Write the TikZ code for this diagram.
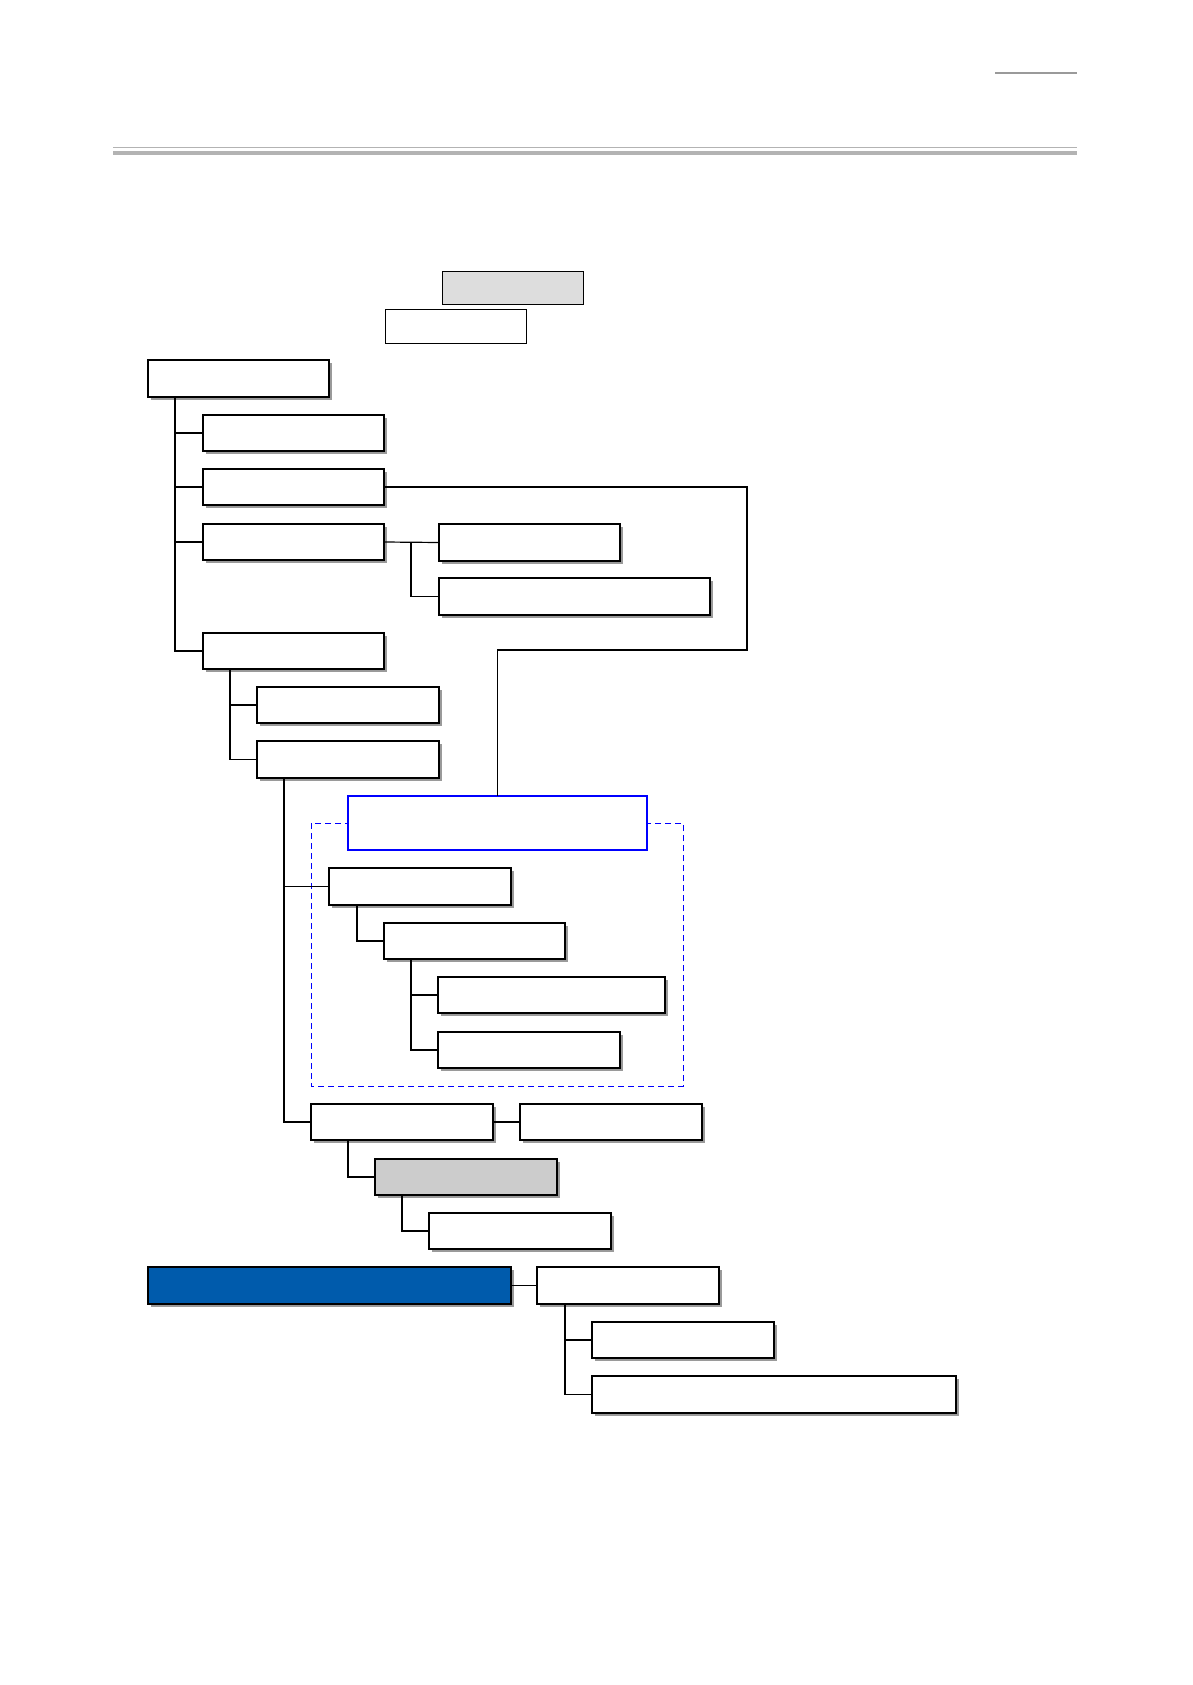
\documentclass[tikz,border=0pt]{standalone}
\usetikzlibrary{shadows,calc}
\definecolor{topgray}{HTML}{DDDDDD}
\definecolor{midgray}{HTML}{CCCCCC}
\definecolor{deepblue}{HTML}{005BAC}
\definecolor{rulegray}{HTML}{B3B3B3}
\definecolor{shadowgray}{HTML}{9A9A9A}
\begin{document}
\begin{tikzpicture}[x=1pt,y=1pt,
  plainbox/.style={draw=black, line width=1.3pt, fill=white, inner sep=0pt, outer sep=0pt, anchor=north west},
  orgbox/.style={plainbox, drop shadow={shadow xshift=3pt, shadow yshift=-3pt, fill=shadowgray, opacity=1}},
  link/.style={draw=black, line width=1.4pt},
  thinlink/.style={draw=black, line width=1.2pt}
]
\useasboundingbox (0,0) rectangle (1192,-1685);
% header rules
\draw[line width=2pt, color=shadowgray] (995,-73) -- (1077,-73);
\draw[line width=1pt, color=rulegray] (113,-147.3) -- (1077,-147.3);
\draw[line width=3.6pt, color=rulegray] (113,-152.8) -- (1077,-152.8);

% top boxes
\node[plainbox, fill=topgray, line width=1pt, minimum width=141pt, minimum height=33pt] (top1) at (442,-272) {};
\node[plainbox, line width=1pt, minimum width=141pt, minimum height=33pt] (top2) at (385,-310) {};

% tree
\node[orgbox, minimum width=181pt, minimum height=37pt] (root) at (148,-360) {};
\node[orgbox, minimum width=181pt, minimum height=36pt] (A) at (203,-415) {};
\node[orgbox, minimum width=181pt, minimum height=36pt] (B) at (203,-469) {};
\node[orgbox, minimum width=181pt, minimum height=36pt] (C) at (203,-524) {};
\node[orgbox, minimum width=181pt, minimum height=37pt] (C1) at (439,-524) {};
\node[orgbox, minimum width=271pt, minimum height=37pt] (C2) at (439,-578) {};
\node[orgbox, minimum width=181pt, minimum height=36pt] (D) at (203,-633) {};
\node[orgbox, minimum width=182pt, minimum height=36pt] (D1) at (257,-687) {};
\node[orgbox, minimum width=182pt, minimum height=37pt] (D2) at (257,-741) {};

% dashed group
\draw[blue, dashed, line width=1pt, dash pattern=on 6pt off 4pt] (311,-823) rectangle (683,-1086);
\node[plainbox, draw=blue, line width=1.6pt, minimum width=299pt, minimum height=54pt] (blue) at (348,-796) {};

\node[orgbox, minimum width=182pt, minimum height=37pt] (E1) at (329,-868) {};
\node[orgbox, minimum width=181pt, minimum height=36pt] (E2) at (384,-923) {};
\node[orgbox, minimum width=227pt, minimum height=36pt] (E3) at (438,-977) {};
\node[orgbox, minimum width=182pt, minimum height=36pt] (E4) at (438,-1032) {};

\node[orgbox, minimum width=182pt, minimum height=36pt] (F) at (311,-1104) {};
\node[orgbox, minimum width=182pt, minimum height=36pt] (G) at (520,-1104) {};
\node[orgbox, fill=midgray, minimum width=182pt, minimum height=36pt] (H) at (375,-1159) {};
\node[orgbox, minimum width=182pt, minimum height=36pt] (I) at (429,-1213) {};

\node[orgbox, fill=deepblue, minimum width=363pt, minimum height=37pt] (J) at (148,-1267) {};
\node[orgbox, minimum width=182pt, minimum height=37pt] (K) at (537,-1267) {};
\node[orgbox, minimum width=182pt, minimum height=36pt] (K1) at (592,-1322) {};
\node[orgbox, minimum width=364pt, minimum height=37pt] (K2) at (592,-1376) {};

% connectors
\coordinate (rt) at ([xshift=27pt]root.south west);
\draw[link] (rt) |- (A.west);
\draw[link] (rt) |- (B.west);
\draw[link] (rt) |- (C.west);
\draw[link] (rt) |- (D.west);

\coordinate (ct) at ([xshift=27pt]C.east);
\draw[thinlink] (C.east) -- (C1.west);
\draw[link] (ct) |- (C2.west);

\coordinate (bend) at (747,-650);
\draw[link] (B.east) -| (bend) -| (blue.north);

\coordinate (dt) at ([xshift=27pt]D.south west);
\draw[thinlink] (dt) |- (D1.west);
\draw[thinlink] (dt) |- (D2.west);

\coordinate (d2t) at ([xshift=27pt]D2.south west);
\draw[link] (d2t) |- (E1.west);
\draw[link] (d2t) |- (F.west);

\coordinate (e1t) at ([xshift=28pt]E1.south west);
\draw[link] (e1t) |- (E2.west);
\coordinate (e2t) at ([xshift=27pt]E2.south west);
\draw[thinlink] (e2t) |- (E3.west);
\draw[link] (e2t) |- (E4.west);

\draw[thinlink] (F.east) -- (G.west);
\coordinate (ft) at ([xshift=37pt]F.south west);
\draw[link] (ft) |- (H.west);
\coordinate (ht) at ([xshift=27pt]H.south west);
\draw[thinlink] (ht) |- (I.west);

\draw[link] (J.east) -- (K.west);
\coordinate (kt) at ([xshift=28pt]K.south west);
\draw[link] (kt) |- (K1.west);
\draw[thinlink] (kt) |- (K2.west);
\end{tikzpicture}
\end{document}
